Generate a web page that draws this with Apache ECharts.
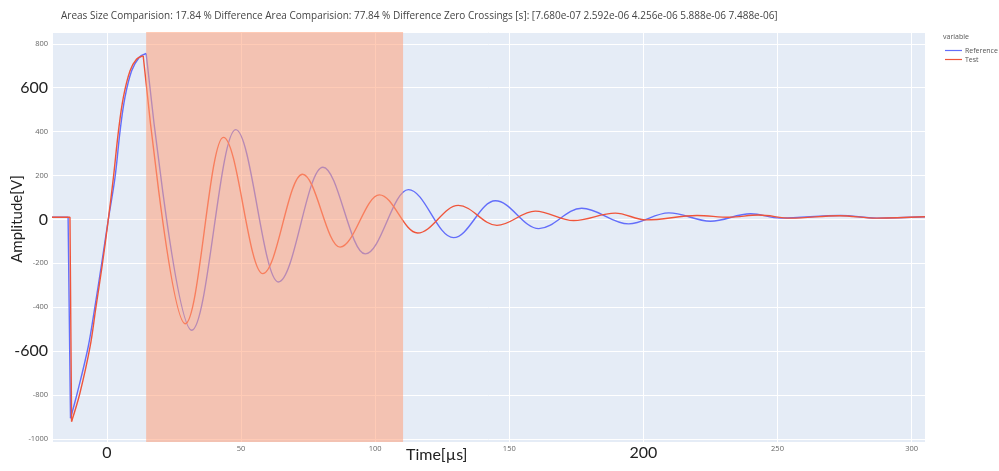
<!DOCTYPE html>
<html><head><meta charset="utf-8">
<script src="https://cdn.jsdelivr.net/npm/echarts@6/dist/echarts.min.js"></script>
<style>html,body{margin:0;padding:0;background:#fff}#c{width:999px;height:471px}</style>
</head><body><div id="c"></div>
<script>
const titleText = 'Areas Size Comparision: 17.84 % Difference Area Comparision: 77.84 % Difference Zero Crossings [s]: [7.680e-07 2.592e-06 4.256e-06 5.888e-06 7.488e-06]';
const seriesNames = ['Reference', 'Test'];
const refTime = [-20.5, -14.5, -13.6, -11.1, -7.0, -4.5, -2.0, 0.5, 3.0, 4.9, 6.7, 9.2, 12.0, 14.6, 31.6, 48.0, 63.9, 80.5, 96.3, 112.4, 129.2, 144.8, 161.0, 177.0, 194.5, 209.5, 225.0, 240.0, 251.0, 273.5, 287.0, 305.0];
const refAmp = [10, 10, -906, -792, -580, -398, -202, 0, 192, 405, 556, 677, 738, 756, -505, 409, -285, 238, -157, 136, -83, 85, -42, 51, -20, 30, -8, 26, 6, 18, 6, 12];
const testTime = [-20.5, -13.8, -13.2, -10.1, -6.3, -4.1, -1.7, 0.5, 2.4, 4.3, 6.1, 8.6, 11.0, 13.5, 29.2, 43.4, 58.1, 72.9, 86.9, 101.6, 115.8, 131.0, 145.4, 159.7, 174.0, 189.5, 201.0, 220.0, 232.0, 243.0, 255.0, 273.0, 287.0, 305.0];
const testAmp = [10, 10, -921, -792, -580, -398, -202, 0, 192, 405, 556, 677, 730, 745, -475, 374, -247, 206, -126, 112, -62, 64, -27, 38, -5, 29, -2, 18, 10, 20, 6, 17, 6, 12];
const windowRange = [14.6, 110.4];
const bigXTicks = [0, 200];
const bigYTicks = [600, 0, -600];

const colors = ['#636EFA', '#EF553B'];

function segments(t, v) {
  const pts = t.map((x, i) => [x, v[i]]);
  let iMin = 0, iMax = 0;
  v.forEach((y, i) => { if (y < v[iMin]) iMin = i; if (y > v[iMax]) iMax = i; });
  return [pts.slice(0, iMin + 1), pts.slice(iMin, iMax + 1), pts.slice(iMax)];
}

const series = [];
[[refTime, refAmp], [testTime, testAmp]].forEach((d, k) => {
  const segs = segments(d[0], d[1]);
  const base = {
    type: 'line', name: seriesNames[k], showSymbol: false, symbol: 'none',
    lineStyle: { width: 1.4, color: colors[k] }, itemStyle: { color: colors[k] },
    z: 2, animation: false
  };
  series.push(Object.assign({}, base, { data: segs[0], smooth: false }));
  series.push(Object.assign({}, base, { data: segs[1], smooth: 0.35 }));
  series.push(Object.assign({}, base, { data: segs[2], smooth: 0.36, smoothMonotone: 'x' }));
});
series[0].markArea = {
  silent: true, z: 5,
  itemStyle: { color: 'rgba(255,160,122,0.55)' },
  data: [[{ xAxis: windowRange[0] }, { xAxis: windowRange[1] }]]
};

const chart = echarts.init(document.getElementById('c'), null, { renderer: 'canvas' });
const bigFont = 'Lato, "Liberation Sans", sans-serif';
const smallFont = '"Open Sans", sans-serif';
chart.setOption({
  backgroundColor: '#fff',
  animation: false,
  color: colors,
  title: {
    text: titleText, left: 56, top: 6,
    textStyle: { fontSize: 10, fontWeight: 'normal', color: '#444', fontFamily: smallFont }
  },
  legend: {
    data: seriesNames, orient: 'vertical', left: 940, top: 42,
    icon: 'rect', itemWidth: 17, itemHeight: 1.2, itemGap: 2,
    textStyle: { fontSize: 7, color: '#555', fontFamily: smallFont, padding: [0, 0, 0, -2] }
  },
  grid: {
    left: 52, right: 74, top: 32, bottom: 29, show: true,
    backgroundColor: '#E5ECF6', borderWidth: 0
  },
  xAxis: {
    type: 'value', min: -20.5, max: 305, splitNumber: 6,
    axisLine: { show: false }, axisTick: { show: false },
    splitLine: { show: true, lineStyle: { color: '#fff', width: 1 } },
    axisLabel: {
      showMinLabel: false, showMaxLabel: false, margin: 3,
      formatter: v => bigXTicks.includes(v) ? '{b|' + v + '}' : '{s|' + v + '}',
      rich: {
        b: { fontSize: 16, color: '#222', fontFamily: bigFont },
        s: { fontSize: 7.5, color: '#666', fontFamily: smallFont }
      }
    }
  },
  yAxis: {
    type: 'value', min: -1014, max: 854, splitNumber: 9,
    axisLine: { show: false }, axisTick: { show: false },
    splitLine: { show: true, lineStyle: { color: '#fff', width: 1 } },
    axisLabel: {
      showMinLabel: false, showMaxLabel: false, margin: 4,
      formatter: v => bigYTicks.includes(v) ? '{b|' + v + '}' : '{s|' + v + '}',
      rich: {
        b: { fontSize: 16, color: '#222', fontFamily: bigFont },
        s: { fontSize: 7.5, color: '#666', fontFamily: smallFont }
      }
    }
  },
  graphic: [
    { type: 'text', left: 406, top: 447, style: { text: 'Time[µs]', fontSize: 16, fill: '#222', fontFamily: bigFont } },
    { type: 'text', x: 17, y: 219, rotation: Math.PI / 2, style: { text: 'Amplitude[V]', fontSize: 15, fill: '#222', fontFamily: bigFont, align: 'center', verticalAlign: 'middle' } },
    { type: 'text', left: 943, top: 33, style: { text: 'variable', fontSize: 7, fill: '#555', fontFamily: smallFont } }
  ],
  series: series
});
</script></body></html>
